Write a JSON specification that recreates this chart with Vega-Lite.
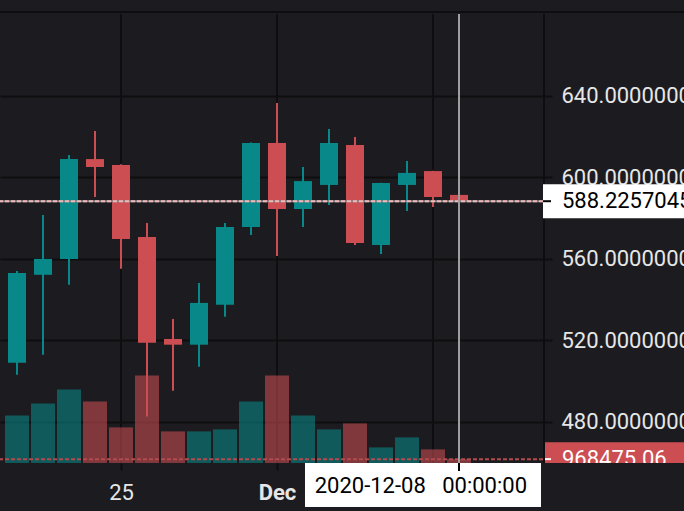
{
  "$schema": "https://vega.github.io/schema/vega-lite/v6.json",
  "width": 543,
  "height": 463,
  "autosize": {"type": "none"},
  "padding": {"left": 0, "top": 0, "right": 141, "bottom": 48},
  "background": "#1C1C20",
  "config": {"view": {"stroke": null}},
  "data": {
    "values": [
      {"date": "2020-11-21", "open": 509.0, "high": 554.0, "low": 503.0, "close": 553.0, "volume": 11900000},
      {"date": "2020-11-22", "open": 552.1, "high": 581.4, "low": 512.9, "close": 559.9, "volume": 14900000},
      {"date": "2020-11-23", "open": 559.9, "high": 610.9, "low": 547.2, "close": 608.9, "volume": 18400000},
      {"date": "2020-11-24", "open": 608.9, "high": 622.7, "low": 590.3, "close": 605.0, "volume": 15400000},
      {"date": "2020-11-25", "open": 606.0, "high": 606.3, "low": 555.1, "close": 569.7, "volume": 8900000},
      {"date": "2020-11-26", "open": 570.6, "high": 577.5, "low": 482.5, "close": 518.8, "volume": 21900000},
      {"date": "2020-11-27", "open": 520.6, "high": 530.4, "low": 495.2, "close": 517.8, "volume": 7900000},
      {"date": "2020-11-28", "open": 517.8, "high": 548.1, "low": 507.0, "close": 538.3, "volume": 7900000},
      {"date": "2020-11-29", "open": 537.4, "high": 577.5, "low": 531.5, "close": 575.6, "volume": 8400000},
      {"date": "2020-11-30", "open": 575.6, "high": 617.0, "low": 571.6, "close": 616.8, "volume": 15400000},
      {"date": "2020-12-01", "open": 616.8, "high": 636.4, "low": 561.3, "close": 584.4, "volume": 21900000},
      {"date": "2020-12-02", "open": 584.4, "high": 605.0, "low": 575.6, "close": 598.1, "volume": 11900000},
      {"date": "2020-12-03", "open": 596.2, "high": 623.7, "low": 586.4, "close": 616.8, "volume": 8400000},
      {"date": "2020-12-04", "open": 615.8, "high": 619.7, "low": 566.7, "close": 567.7, "volume": 9900000},
      {"date": "2020-12-05", "open": 566.7, "high": 597.3, "low": 562.3, "close": 597.1, "volume": 3900000},
      {"date": "2020-12-06", "open": 596.2, "high": 608.0, "low": 583.4, "close": 602.1, "volume": 6400000},
      {"date": "2020-12-07", "open": 603.0, "high": 603.2, "low": 585.4, "close": 590.3, "volume": 3400000},
      {"date": "2020-12-08", "open": 591.3, "high": 595.2, "low": 588.0, "close": 588.2257045, "volume": 968475.06}
    ]
  },
  "layer": [
    {
      "layer": [
        {
          "data": {"values": [{"date": "2020-11-25"}, {"date": "2020-12-01"}, {"date": "2020-12-07"}]},
          "mark": {"type": "rule", "color": "#0E0E10", "strokeWidth": 2},
          "encoding": {
            "x": {
              "field": "date", "type": "temporal", "title": null,
              "scale": {"domain": [1605860307692, 1607664738462], "nice": false, "padding": 0},
              "axis": {
                "values": [1606262400000, 1606780800000],
                "labelExpr": "utcdate(datum.value) == 1 ? 'Dec' : '' + utcdate(datum.value)",
                "labelFontWeight": {"condition": {"test": "utcdate(datum.value) == 1", "value": "bold"}, "value": "normal"},
                "title": null, "grid": false, "domain": false,
                "tickColor": "#0E0E10", "tickWidth": 2, "tickSize": 7,
                "labelBaseline": "alphabetic", "labelPadding": 29,
                "labelFlush": false, "labelOverlap": false, "zindex": 1,
                "labelFont": "Roboto", "labelFontSize": 22, "labelColor": "#E6E6E6"
              }
            },
            "y": {"datum": 112250000, "type": "quantitative", "scale": {"domain": [0, 115750000], "nice": false, "zero": true, "padding": 0}, "axis": null, "title": null},
            "y2": {"value": "height"}
          }
        },
        {
          "mark": {"type": "bar", "size": 24, "opacity": 0.58},
          "encoding": {
            "x": {"field": "date", "type": "temporal", "title": null},
            "y": {"field": "volume", "type": "quantitative", "axis": null, "title": null},
            "color": {"condition": {"test": "datum.close >= datum.open", "value": "#088888"}, "value": "#CC4E52"}
          }
        },
        {
          "transform": [{"filter": "+toDate(datum.date) == 1607385600000"}],
          "mark": {"type": "rule", "color": "#B24A4E", "strokeWidth": 2, "strokeDash": [4, 2]},
          "encoding": {"y": {"field": "volume", "type": "quantitative", "title": null}}
        },
        {
          "transform": [{"filter": "+toDate(datum.date) == 1607385600000"}],
          "mark": {"type": "rule", "color": "#CC4E52", "strokeWidth": 34, "x2Offset": 141},
          "encoding": {"x": {"value": "width"}, "x2": {"value": "width"}, "y": {"field": "volume", "type": "quantitative", "title": null}}
        },
        {
          "transform": [{"filter": "+toDate(datum.date) == 1607385600000"}],
          "mark": {"type": "rule", "color": "#FFFFFF", "strokeWidth": 2, "x2Offset": 8},
          "encoding": {"x": {"value": "width"}, "x2": {"value": "width"}, "y": {"field": "volume", "type": "quantitative", "title": null}}
        },
        {
          "transform": [{"filter": "+toDate(datum.date) == 1607385600000"}],
          "mark": {"type": "text", "align": "left", "baseline": "middle", "dx": 19, "font": "Roboto", "fontSize": 22, "color": "#FFFFFF"},
          "encoding": {
            "x": {"value": "width"},
            "y": {"field": "volume", "type": "quantitative", "title": null},
            "text": {"field": "volume", "type": "quantitative", "format": ".2f"}
          }
        }
      ]
    },
    {
      "layer": [
        {
          "data": {"values": [{}]},
          "mark": {"type": "rule", "color": "#0E0E10", "strokeWidth": 2, "x2Offset": 141},
          "encoding": {"x": {"value": 0}, "x2": {"value": "width"}, "y": {"datum": 681.1, "type": "quantitative", "title": null}}
        },
        {
          "data": {"values": [{}]},
          "mark": {"type": "rule", "color": "#0E0E10", "strokeWidth": 2, "xOffset": 1},
          "encoding": {"x": {"value": "width"}, "y": {"datum": 680.1, "type": "quantitative", "title": null}, "y2": {"value": "height"}}
        },
        {
          "mark": {"type": "rule", "strokeWidth": 2},
          "encoding": {
            "x": {"field": "date", "type": "temporal", "title": null},
            "y": {
              "field": "low", "type": "quantitative", "title": null,
              "scale": {"domain": [459.74, 686.97], "nice": false, "zero": false, "padding": 0},
              "axis": {
                "values": [480, 520, 560, 600, 640], "format": ".7f", "orient": "right", "title": null,
                "grid": true, "gridColor": "#0E0E10", "gridWidth": 2, "domain": false,
                "ticks": true, "tickColor": "#0E0E10", "tickWidth": 2, "tickSize": 9,
                "labelPadding": 9, "labelFont": "Roboto", "labelFontSize": 22, "labelColor": "#E6E6E6",
                "labelBaseline": "middle", "labelAlign": "left", "labelFlush": false, "labelOverlap": false, "zindex": 0
              }
            },
            "y2": {"field": "high"},
            "color": {"condition": {"test": "datum.close >= datum.open", "value": "#088888"}, "value": "#CC4E52"}
          }
        },
        {
          "mark": {"type": "bar", "size": 18},
          "encoding": {
            "x": {"field": "date", "type": "temporal", "title": null},
            "y": {"field": "open", "type": "quantitative", "title": null},
            "y2": {"field": "close"},
            "color": {"condition": {"test": "datum.close >= datum.open", "value": "#088888"}, "value": "#CC4E52"}
          }
        },
        {
          "transform": [{"filter": "+toDate(datum.date) == 1607385600000"}],
          "mark": {"type": "rule", "color": "#8A8A8E", "strokeWidth": 2},
          "encoding": {"y": {"field": "close", "type": "quantitative", "title": null}}
        },
        {
          "transform": [{"filter": "+toDate(datum.date) == 1607385600000"}],
          "mark": {"type": "rule", "color": "#F2B8B8", "strokeWidth": 2, "strokeDash": [4, 2]},
          "encoding": {"y": {"field": "close", "type": "quantitative", "title": null}}
        },
        {
          "transform": [{"filter": "+toDate(datum.date) == 1607385600000"}],
          "mark": {"type": "rule", "color": "#9E9E9E", "strokeWidth": 2},
          "encoding": {
            "x": {"field": "date", "type": "temporal", "title": null},
            "y": {"datum": 680.1, "type": "quantitative", "title": null},
            "y2": {"value": "height"}
          }
        },
        {
          "transform": [{"filter": "+toDate(datum.date) == 1607385600000"}],
          "mark": {"type": "rule", "color": "#FFFFFF", "strokeWidth": 34, "x2Offset": 141},
          "encoding": {"x": {"value": "width"}, "x2": {"value": "width"}, "y": {"field": "close", "type": "quantitative", "title": null}}
        },
        {
          "transform": [{"filter": "+toDate(datum.date) == 1607385600000"}],
          "mark": {"type": "rule", "color": "#000000", "strokeWidth": 2, "x2Offset": 8},
          "encoding": {"x": {"value": "width"}, "x2": {"value": "width"}, "y": {"field": "close", "type": "quantitative", "title": null}}
        },
        {
          "transform": [{"filter": "+toDate(datum.date) == 1607385600000"}],
          "mark": {"type": "text", "align": "left", "baseline": "middle", "dx": 19, "font": "Roboto", "fontSize": 22, "color": "#000000"},
          "encoding": {
            "x": {"value": "width"},
            "y": {"field": "close", "type": "quantitative", "title": null},
            "text": {"field": "close", "type": "quantitative", "format": ".7f"}
          }
        },
        {
          "data": {"values": [{}]},
          "mark": {"type": "rect", "color": "#1C1C20", "x2Offset": 141, "y2Offset": 48},
          "encoding": {"x": {"value": 0}, "x2": {"value": "width"}, "y": {"value": "height"}, "y2": {"value": "height"}}
        },
        {
          "transform": [{"filter": "+toDate(datum.date) == 1607385600000"}],
          "mark": {"type": "rect", "color": "#FFFFFF", "xOffset": -154, "x2Offset": 82, "y2Offset": 44},
          "encoding": {
            "x": {"field": "date", "type": "temporal", "title": null},
            "x2": {"field": "date"},
            "y": {"value": "height"},
            "y2": {"value": "height"}
          }
        },
        {
          "transform": [{"filter": "+toDate(datum.date) == 1607385600000"}],
          "mark": {"type": "rule", "color": "#000000", "strokeWidth": 2, "y2Offset": 8},
          "encoding": {
            "x": {"field": "date", "type": "temporal", "title": null},
            "y": {"value": "height"},
            "y2": {"value": "height"}
          }
        },
        {
          "transform": [{"filter": "+toDate(datum.date) == 1607385600000"}],
          "mark": {"type": "text", "align": "right", "baseline": "alphabetic", "dx": 68, "dy": 30, "font": "Roboto", "fontSize": 22, "color": "#000000"},
          "encoding": {
            "x": {"field": "date", "type": "temporal", "title": null},
            "y": {"value": "height"},
            "text": {"field": "date", "type": "temporal", "timeUnit": "utcyearmonthdatehoursminutesseconds", "format": "%Y-%m-%d\u00a0\u00a0\u00a0%H:%M:%S"}
          }
        }
      ]
    }
  ],
  "resolve": {"scale": {"y": "independent"}}
}
